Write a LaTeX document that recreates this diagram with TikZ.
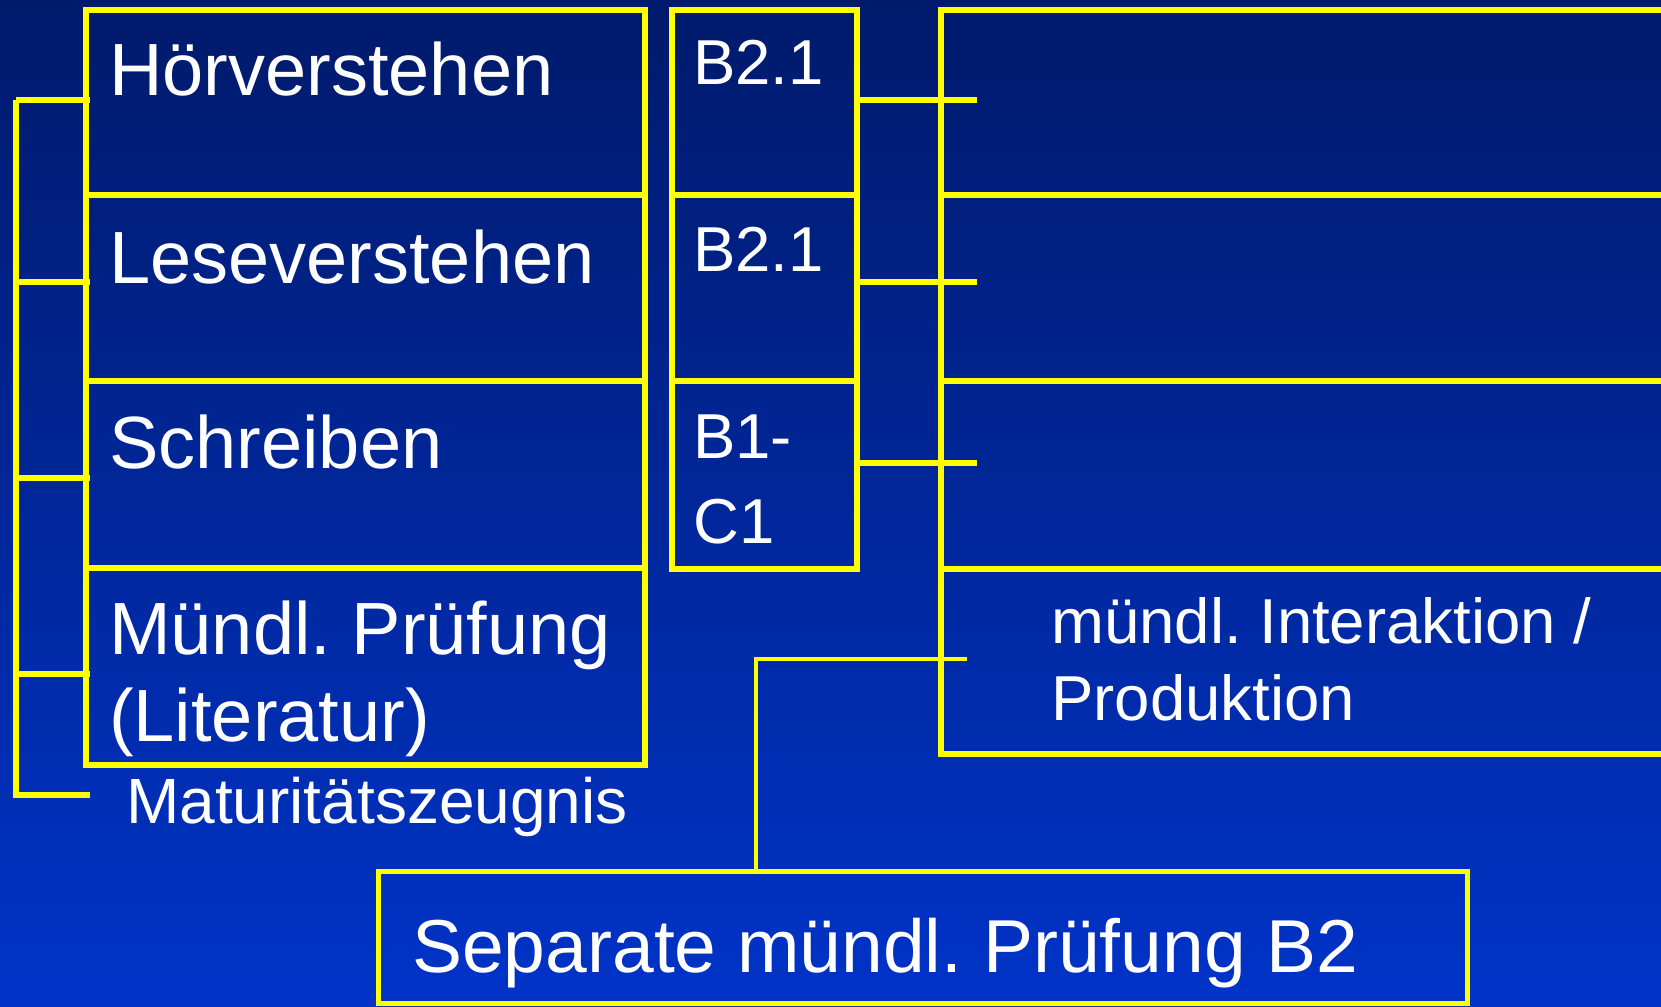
\documentclass[tikz,border=0pt]{standalone}
\usepackage{fontspec}
\setmainfont{Liberation Sans}
\frenchspacing
\usetikzlibrary{calc}
\definecolor{bgtop}{HTML}{001A6B}
\definecolor{bgbot}{HTML}{0033C8}
\definecolor{ylw}{HTML}{FFFF00}
\tikzset{
  box/.style={draw=ylw, line width=6pt, rectangle, inner sep=0pt, outer sep=0pt, anchor=north west},
  conn/.style={draw=ylw, line width=5.5pt},
  bigtxt/.style={text=white, inner sep=0pt, anchor=base west, font=\fontsize{74}{87}\selectfont, align=left},
  midtxt/.style={text=white, inner sep=0pt, anchor=base west, font=\fontsize{63.5}{85}\selectfont, align=left},
}
\begin{document}
\begin{tikzpicture}[x=1pt, y=-1pt]
\useasboundingbox (0,0) rectangle (1661,1006);
\shade[top color=bgtop, bottom color=bgbot] (0,0) rectangle (1661,1006);
% left boxes
\node[box, minimum width=559pt, minimum height=185pt] (hor) at (86,10) {};
\node[box, minimum width=559pt, minimum height=186pt] (les) at (86,195) {};
\node[box, minimum width=559pt, minimum height=187pt] (sch) at (86,381) {};
\node[box, minimum width=559pt, minimum height=197pt] (mun) at (86,568) {};
% middle boxes
\node[box, minimum width=185pt, minimum height=185pt] (b1) at (672,10) {};
\node[box, minimum width=185pt, minimum height=186pt] (b2) at (672,195) {};
\node[box, minimum width=185pt, minimum height=188pt] (b3) at (672,381) {};
% right boxes
\node[box, minimum width=800pt, minimum height=185pt] (r1) at (941,10) {};
\node[box, minimum width=800pt, minimum height=186pt] (r2) at (941,195) {};
\node[box, minimum width=800pt, minimum height=188pt] (r3) at (941,381) {};
\node[box, minimum width=800pt, minimum height=185pt] (r4) at (941,569) {};
% bottom box
\node[box, line width=5pt, minimum width=1089pt, minimum height=132pt] (sep) at (378,871) {};
% texts
\node[bigtxt] (thor) at (109,96) {Hörverstehen};
\node[bigtxt] (tles) at (109,283) {Leseverstehen};
\node[bigtxt] (tsch) at (109,468) {Schreiben};
\node[bigtxt] (tmun) at (109,654) {Mündl. Prüfung};
\node[bigtxt] (tlit) at (109,741) {(Literatur)};
\node[midtxt, font=\fontsize{64}{85}\selectfont] (tmat) at (126,823) {Maturitätszeugnis};
\node[midtxt] (tb1) at (693,85) {B2.1};
\node[midtxt] (tb2) at (693,271) {B2.1};
\node[midtxt] (tb3a) at (693,458) {B1-};
\node[midtxt] (tb3b) at (693,543) {C1};
\node[midtxt] (tint) at (1051,643) {mündl. Interaktion /};
\node[midtxt] (tprod) at (1051,720) {Produktion};
\node[bigtxt, font=\fontsize{75}{87}\selectfont] (tsep) at (412,972) {Separate mündl. Prüfung B2};
% left bracket
\coordinate (brtop) at (16,100);
\coordinate (brbot) at (16,795);
\coordinate (brend) at (90,795);
\draw[conn] (brtop) -- (brbot) -- (brend);
\draw[conn] ([xshift=4pt,yshift=2.5pt]hor.west) -- ([yshift=2.5pt]hor.west -| brtop);
\draw[conn] ([xshift=4pt,yshift=6pt]les.west) -- ([yshift=6pt]les.west -| brtop);
\draw[conn] ([xshift=4pt,yshift=-3.5pt]sch.west) -- ([yshift=-3.5pt]sch.west -| brtop);
\draw[conn] ([xshift=4pt,yshift=-7.5pt]mun.west) -- ([yshift=-7.5pt]mun.west -| brtop);
% middle to right connectors
\draw[conn] ([yshift=2.5pt]b1.east) -- ++(120,0) coordinate (e1);
\draw[conn] ([yshift=6pt]b2.east) -- ++(120,0) coordinate (e2);
\draw[conn] ([yshift=12pt]b3.east) -- ++(120,0) coordinate (e3);
% bottom connector
\coordinate (c4) at (967,659);
\draw[conn, line width=4.5pt] ([xshift=-166.5pt]sep.north) |- (c4);
\end{tikzpicture}
\end{document}
